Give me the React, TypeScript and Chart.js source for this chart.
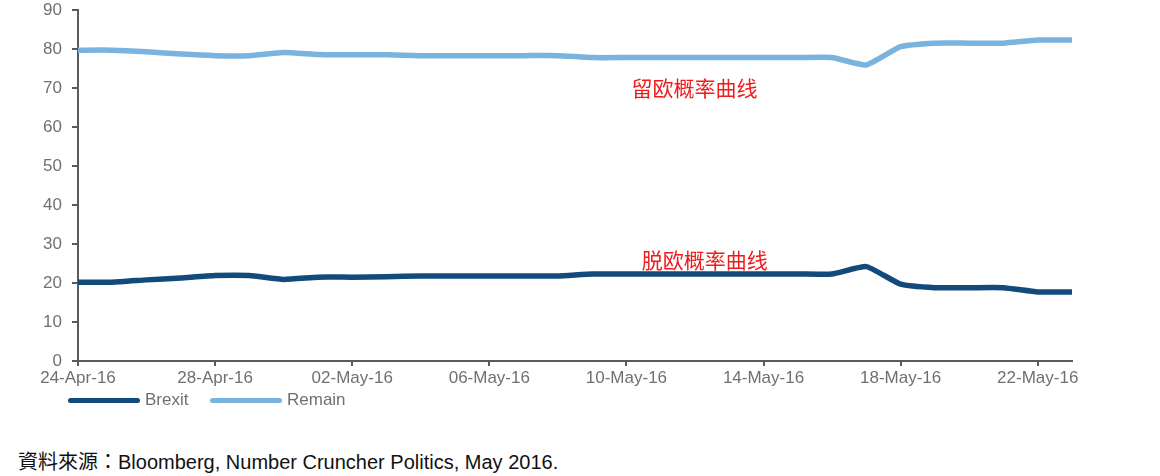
import React, { useEffect, useRef } from 'react';
import { Chart, registerables } from 'chart.js';

Chart.register(...registerables);

// 24-Apr-16 .. 23-May-16, daily
const dates = [
  '24-Apr-16', '25-Apr-16', '26-Apr-16', '27-Apr-16', '28-Apr-16', '29-Apr-16', '30-Apr-16',
  '01-May-16', '02-May-16', '03-May-16', '04-May-16', '05-May-16', '06-May-16', '07-May-16',
  '08-May-16', '09-May-16', '10-May-16', '11-May-16', '12-May-16', '13-May-16', '14-May-16',
  '15-May-16', '16-May-16', '17-May-16', '18-May-16', '19-May-16', '20-May-16', '21-May-16',
  '22-May-16', '23-May-16',
];

const brexit = [
  20.2, 20.2, 20.8, 21.3, 21.9, 21.9, 20.9, 21.5, 21.5, 21.6,
  21.8, 21.8, 21.8, 21.8, 21.8, 22.3, 22.3, 22.3, 22.3, 22.3,
  22.3, 22.3, 22.3, 24.2, 19.7, 18.8, 18.8, 18.8, 17.7, 17.7,
];

const remain = [
  79.7, 79.7, 79.3, 78.7, 78.3, 78.3, 79.1, 78.6, 78.5, 78.5,
  78.3, 78.3, 78.3, 78.3, 78.3, 77.8, 77.8, 77.8, 77.8, 77.8,
  77.8, 77.8, 77.8, 75.9, 80.6, 81.5, 81.5, 81.5, 82.3, 82.3,
];

// red notes written on the chart: [text, x index, y value]
const notes: [string, number, number][] = [
  ['留欧概率曲线', 16.15, 70],
  ['脱欧概率曲线', 16.45, 26],
];

const BREXIT_COLOR = '#124a7c';
const REMAIN_COLOR = '#7ab3dd';
const AXIS_COLOR = '#5a5a5a';
const TEXT_COLOR = '#707070';
const FONT = '"Liberation Sans", Arial, sans-serif';

const notesPlugin = {
  id: 'notes',
  afterDatasetsDraw(chart: any) {
    const { ctx, scales } = chart;
    ctx.save();
    ctx.fillStyle = '#ee1c1c';
    ctx.font = '21px "Noto Sans CJK SC", sans-serif';
    ctx.textAlign = 'left';
    ctx.textBaseline = 'middle';
    notes.forEach(([text, xi, yv]) => {
      ctx.fillText(text, scales.x.getPixelForValue(xi), scales.y.getPixelForValue(yv));
    });
    ctx.restore();
  },
};

const legendItems = [
  { label: 'Brexit', color: BREXIT_COLOR, left: 68 },
  { label: 'Remain', color: REMAIN_COLOR, left: 210 },
];

const App: React.FC = () => {
  const canvasRef = useRef<HTMLCanvasElement>(null);
  const chartRef = useRef<Chart | null>(null);

  useEffect(() => {
    document.body.style.margin = '0';
    const ctx = canvasRef.current?.getContext('2d');
    if (!ctx) return;
    if (chartRef.current) chartRef.current.destroy();

    chartRef.current = new Chart(ctx, {
      type: 'line',
      data: {
        labels: dates,
        datasets: [
          {
            label: 'Brexit',
            data: brexit,
            borderColor: BREXIT_COLOR,
            backgroundColor: BREXIT_COLOR,
            borderWidth: 5.5,
            pointRadius: 0,
            tension: 0.15,
          },
          {
            label: 'Remain',
            data: remain,
            borderColor: REMAIN_COLOR,
            backgroundColor: REMAIN_COLOR,
            borderWidth: 5.5,
            pointRadius: 0,
            tension: 0.15,
          },
        ],
      },
      options: {
        animation: false,
        responsive: false,
        layout: { padding: { left: 0, right: 88, top: 10, bottom: 9 } },
        plugins: {
          legend: { display: false },
          tooltip: { enabled: false },
        },
        scales: {
          x: {
            offset: false,
            afterFit: (scale: any) => { scale.height = 30; },
            border: { color: AXIS_COLOR, width: 2 },
            grid: { drawOnChartArea: false, drawTicks: true, tickLength: 5, color: AXIS_COLOR, lineWidth: 2 },
            ticks: {
              autoSkip: false,
              maxRotation: 0,
              color: TEXT_COLOR,
              font: { family: FONT, size: 17 },
              padding: 2,
              callback: (_v: any, i: number) => (i % 4 === 0 ? dates[i] : null),
            },
          },
          y: {
            min: 0,
            max: 90,
            afterFit: (scale: any) => {
              scale.width = 78;
              scale.paddingTop = 0;
              scale.paddingBottom = 0;
            },
            border: { color: AXIS_COLOR, width: 2 },
            grid: { drawOnChartArea: false, drawTicks: true, tickLength: 6, color: AXIS_COLOR, lineWidth: 2 },
            ticks: {
              stepSize: 10,
              color: TEXT_COLOR,
              font: { family: FONT, size: 17 },
              padding: 10,
            },
          },
        },
      },
      plugins: [notesPlugin],
    });

    return () => {
      if (chartRef.current) {
        chartRef.current.destroy();
        chartRef.current = null;
      }
    };
  }, []);

  return (
    <div style={{ position: 'relative', width: 1160, height: 476, background: '#fff' }}>
      <canvas ref={canvasRef} width={1160} height={400} style={{ position: 'absolute', left: 0, top: 0 }} />
      {legendItems.map((it) => (
        <div
          key={it.label}
          style={{ position: 'absolute', left: it.left, top: 390, height: 20, display: 'flex', alignItems: 'center' }}
        >
          <div style={{ width: 72, height: 5, borderRadius: 3, background: it.color }} />
          <span style={{ marginLeft: 5, fontFamily: FONT, fontSize: 17, color: TEXT_COLOR, lineHeight: '20px' }}>
            {it.label}
          </span>
        </div>
      ))}
      <div
        style={{
          position: 'absolute',
          left: 18,
          top: 450,
          fontFamily: '"Liberation Sans", Arial, "Noto Sans CJK TC", sans-serif',
          fontSize: 20,
          lineHeight: '24px',
          color: '#111',
          whiteSpace: 'nowrap',
        }}
      >
        資料來源：Bloomberg, Number Cruncher Politics, May 2016.
      </div>
    </div>
  );
};

export default App;
